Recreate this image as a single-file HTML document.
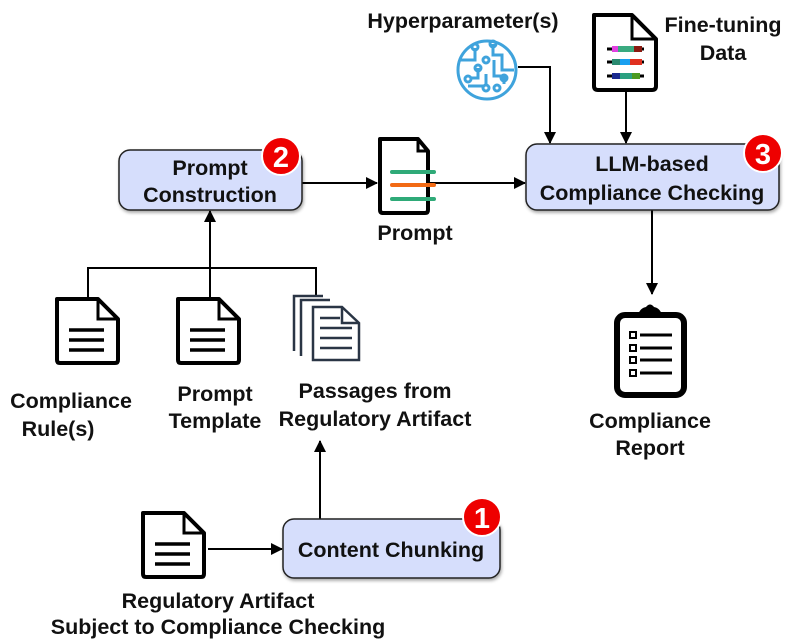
<!DOCTYPE html>
<html><head><style>body{margin:0;background:#fff}svg{display:block}text{font-family:"Liberation Sans",sans-serif;font-weight:bold;font-size:21.5px;fill:#111;text-anchor:middle}</style></head><body>
<svg width="789" height="643" viewBox="0 0 789 643" xmlns="http://www.w3.org/2000/svg">
<defs>
<marker id="a" markerWidth="12" markerHeight="12" refX="11" refY="6" orient="auto" markerUnits="userSpaceOnUse"><path d="M0,0 L12,6 L0,12z" fill="#000"/></marker>
<filter id="s"><feDropShadow dx="1" dy="2" stdDeviation="1.5" flood-opacity="0.35"/></filter>
<g id="doc"><path d="M3,3 H44 L64,23 V64 Q64,67 61,67 H6 Q3,67 3,64 Z" fill="#fff" stroke="#000" stroke-width="4" stroke-linejoin="round"/><path d="M44,3 V23 H64" fill="none" stroke="#000" stroke-width="3"/><path d="M15,34H50M15,44H50M15,54H50" stroke="#000" stroke-width="3.5"/></g>
</defs>
<g stroke="#000" stroke-width="2" fill="none">
<path d="M302,183H377" marker-end="url(#a)"/>
<path d="M428,183H525" marker-end="url(#a)"/>
<path d="M518,67H550V143" marker-end="url(#a)"/>
<path d="M626,90V143" marker-end="url(#a)"/>
<path d="M652,210V294" marker-end="url(#a)"/>
<path d="M210,297V211" marker-end="url(#a)"/>
<path d="M88,297V268H316V295"/>
<path d="M320,519V441" marker-end="url(#a)"/>
<path d="M208,549H282" marker-end="url(#a)"/>
</g>
<rect x="119" y="150" width="183" height="60" rx="11" fill="#d6defc" stroke="#222" stroke-width="1.5" filter="url(#s)"/>
<rect x="526" y="144" width="253" height="66" rx="11" fill="#d6defc" stroke="#222" stroke-width="1.5" filter="url(#s)"/>
<rect x="283" y="519" width="217" height="59" rx="11" fill="#d6defc" stroke="#222" stroke-width="1.5" filter="url(#s)"/>
<text x="210" y="175">Prompt</text><text x="210" y="202">Construction</text>
<text x="652" y="171">LLM-based</text><text x="652" y="200">Compliance Checking</text>
<text x="391" y="557">Content Chunking</text>
<circle cx="281" cy="156" r="19" fill="#e00" stroke="#fff" stroke-width="2"/><text x="281" y="167" style="fill:#fff;font-size:29px;font-weight:900">2</text>
<circle cx="763" cy="153" r="19" fill="#e00" stroke="#fff" stroke-width="2"/><text x="763" y="164" style="fill:#fff;font-size:29px;font-weight:900">3</text>
<circle cx="482" cy="517" r="19" fill="#e00" stroke="#fff" stroke-width="2"/><text x="482" y="528" style="fill:#fff;font-size:29px;font-weight:900">1</text>
<!-- prompt doc -->
<path d="M380,139H418L428,151V210Q428,213 425,213H383Q380,213 380,210Z" fill="#fff" stroke="#000" stroke-width="4" stroke-linejoin="round"/>
<path d="M418,139V151H428" fill="none" stroke="#000" stroke-width="3"/>
<path d="M392,172H434" stroke="#2faa78" stroke-width="4" stroke-linecap="round"/>
<path d="M392,185H434" stroke="#f26a14" stroke-width="4" stroke-linecap="round"/>
<path d="M392,199H434" stroke="#2faa78" stroke-width="4" stroke-linecap="round"/>
<text x="415" y="240">Prompt</text>
<!-- hyperparam icon -->
<g stroke="#3fa3dc" stroke-width="3" fill="none">
<circle cx="487" cy="70" r="29"/>
<path d="M460,60H475V48M493,44V55H502V70H514M478,68V78H470M486,74V86M494,60V76H504V84M468,86H484"/>
<circle cx="475" cy="47" r="3"/><circle cx="493" cy="44" r="3"/><circle cx="486" cy="60" r="3"/><circle cx="478" cy="68" r="3"/><circle cx="486" cy="88" r="3"/><circle cx="497" cy="88" r="3"/><circle cx="504" cy="78" r="3"/><circle cx="468" cy="79" r="3"/>
</g>
<text x="463" y="28">Hyperparameter(s)</text>
<!-- fine-tuning doc -->
<path d="M594,15H632L656,39V86Q656,90 652,90H598Q594,90 594,86Z" fill="#fff" stroke="#000" stroke-width="4" stroke-linejoin="round"/>
<path d="M632,15V39H656" fill="none" stroke="#000" stroke-width="3"/>
<path d="M607,49H644M607,62H644M607,76H644" stroke="#000" stroke-width="3"/>
<rect x="612" y="46" width="6" height="6" fill="#e040e0"/><rect x="618" y="46" width="16" height="6" fill="#3aaa80"/><rect x="634" y="46" width="8" height="6" fill="#8b1a10"/>
<rect x="612" y="59" width="8" height="6" fill="#2a8a70"/><rect x="620" y="59" width="10" height="6" fill="#1aa0f0"/><rect x="630" y="59" width="12" height="6" fill="#e03020"/>
<rect x="612" y="73" width="8" height="6" fill="#1a2a90"/><rect x="620" y="73" width="12" height="6" fill="#2aa080"/><rect x="632" y="73" width="8" height="6" fill="#4a9a20"/>
<text x="723" y="32">Fine-tuning</text><text x="723" y="60">Data</text>
<!-- clipboard -->
<rect x="617" y="315" width="67" height="80" rx="8" fill="#fff" stroke="#000" stroke-width="6"/>
<path d="M638,315Q640,308 646,307Q650,302 654,307Q660,308 662,315Z" fill="#000"/>
<g stroke="#000" stroke-width="2" fill="none"><rect x="630" y="332" width="6" height="6"/><rect x="630" y="345" width="6" height="6"/><rect x="630" y="357" width="6" height="6"/><rect x="630" y="370" width="6" height="6"/></g>
<path d="M640,335H672M640,348H672M640,360H672M640,373H672" stroke="#000" stroke-width="3"/>
<text x="650" y="428">Compliance</text><text x="650" y="455">Report</text>
<!-- docs -->
<use href="#doc" x="54" y="296"/>
<use href="#doc" x="175" y="296"/>
<use href="#doc" x="140" y="510"/>
<g stroke="#2a3545" stroke-width="2.5" fill="#fff">
<path d="M294,351V296H323"/>
<path d="M301,356V300H330"/>
<path d="M313,360V307H342L359,323V360Z"/>
<path d="M342,307V323H359" fill="none"/>
<path d="M320,318H340M320,328H352M320,338H352M320,348H352" fill="none"/>
</g>
<text x="71" y="408">Compliance</text><text x="58" y="436">Rule(s)</text>
<text x="215" y="401">Prompt</text><text x="215" y="428">Template</text>
<text x="375" y="398">Passages from</text><text x="375" y="426">Regulatory Artifact</text>
<text x="218" y="608">Regulatory Artifact</text><text x="218" y="634">Subject to Compliance Checking</text>
</svg>
</body></html>
